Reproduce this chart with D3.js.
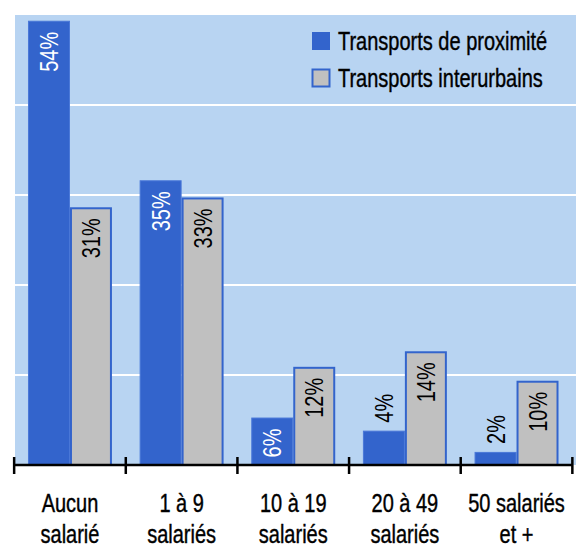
<!DOCTYPE html>
<html><head><meta charset="utf-8">
<script src="https://cdn.jsdelivr.net/npm/d3@7"></script>
<style>
html,body{margin:0;padding:0;background:#fff;}
svg text{font-family:"Liberation Sans","Arimo",Arial,sans-serif;}
</style></head>
<body>
<svg id="c" width="576" height="548"></svg>
<script>
const categories = [["Aucun","salarié"],["1 à 9","salariés"],["10 à 19","salariés"],["20 à 49","salariés"],["50 salariés","et +"]];
const seriesNames = ["Transports de proximité","Transports interurbains"];
const proximite = [54.3, 34.8, 5.8, 4.2, 1.6];
const interurbains = [31.5, 32.7, 12.0, 13.9, 10.3];
const proximiteLabels = ["54%","35%","6%","4%","2%"];
const interurbainsLabels = ["31%","33%","12%","14%","10%"];
const gridValues = [11, 22, 33, 44];

const blue = "#3364cc", gray = "#c0c0c0", bg = "#b8d4f2";
const SX = 0.8;
const svg = d3.select("#c");
const pLeft = 14, pRight = 572.5, pTop = 15, pBottom = 465;

const x = d3.scaleBand().domain(d3.range(categories.length)).range([pLeft, pRight]).paddingInner(0.248).paddingOuter(0.1253);
const xs = d3.scaleBand().domain([0,1]).range([0, x.bandwidth()]);
const y = d3.scaleLinear().domain([0, 55]).range([pBottom, pTop]);

svg.append("rect").attr("x", 15).attr("y", pTop).attr("width", 576-15).attr("height", pBottom-pTop).attr("fill", bg);

svg.append("g").selectAll("line").data(gridValues).join("line")
  .attr("x1", 15).attr("x2", 576).attr("y1", d=>y(d)).attr("y2", d=>y(d))
  .attr("stroke", "#fff").attr("stroke-width", 2);

const series = [
  {vals: proximite, labels: proximiteLabels, fill: blue, stroke: "#4a78d8", sw: 1, txt: "#fff"},
  {vals: interurbains, labels: interurbainsLabels, fill: gray, stroke: blue, sw: 2, txt: "#000"}
];

series.forEach((s, si) => {
  const g = svg.append("g");
  g.selectAll("rect").data(s.vals).join("rect")
    .attr("x", (d,i)=>x(i)+xs(si)+s.sw/2)
    .attr("y", d=>y(d)+s.sw/2)
    .attr("width", xs.bandwidth()-s.sw)
    .attr("height", d=>pBottom-y(d)-s.sw/2)
    .attr("fill", s.fill).attr("stroke", s.stroke).attr("stroke-width", s.sw);
  g.selectAll("text").data(s.vals).join("text")
    .each(function(d,i){
      const cx = x(i)+xs(si)+xs.bandwidth()/2;
      const inside = (pBottom - y(d)) > 40;
      const ty = inside ? y(d)+11 : y(d)-8;
      const col = inside ? s.txt : "#000";
      d3.select(this)
        .attr("transform", `translate(${cx},${ty}) rotate(-90) scale(${SX},1)`)
        .attr("text-anchor", inside ? "end" : "start")
        .attr("dy", "0.36em")
        .attr("font-size", 25)
        .attr("fill", col)
        .text(s.labels[i]);
    });
});

// axis
const axis = svg.append("g");
axis.append("line").attr("x1", pLeft).attr("x2", pRight).attr("y1", pBottom).attr("y2", pBottom)
  .attr("stroke", "#000").attr("stroke-width", 2.5);
const tickPos = d3.range(categories.length+1).map(i => i < categories.length ? x(i) - x.step()*x.paddingInner()/2 : x(i-1)+x.bandwidth()+x.step()*x.paddingInner()/2);
axis.selectAll("line.t").data(tickPos).join("line").attr("class","t")
  .attr("x1", d=>d).attr("x2", d=>d).attr("y1", pBottom-8).attr("y2", pBottom+9)
  .attr("stroke", "#000").attr("stroke-width", 2.5);

const lab = svg.append("g").selectAll("text").data(categories).join("text")
  .attr("text-anchor", "middle").attr("font-size", 25).attr("fill", "#000")
  .attr("stroke", "#000").attr("stroke-width", 0.4)
  .attr("transform", (d,i)=>`translate(${x(i)+x.bandwidth()/2},0) scale(${SX},1)`);
lab.each(function(d){
  d3.select(this).selectAll("tspan").data(d).join("tspan")
    .attr("x", 0).attr("y", (t,j)=> 512 + j*31).text(t=>t);
});

// legend
const leg = svg.append("g");
seriesNames.forEach((n, i) => {
  const yy = 32 + i*37;
  leg.append("rect").attr("x", 312.5).attr("y", yy+0.5).attr("width", 17).attr("height", 17)
    .attr("fill", series[i].fill).attr("stroke", blue).attr("stroke-width", i===0?1:2);
  leg.append("text").attr("transform", `translate(338,${yy+18}) scale(${SX},1)`)
    .attr("font-size", 25).attr("fill","#000").attr("stroke", "#000").attr("stroke-width", 0.4).text(n);
});
</script>
</body></html>
